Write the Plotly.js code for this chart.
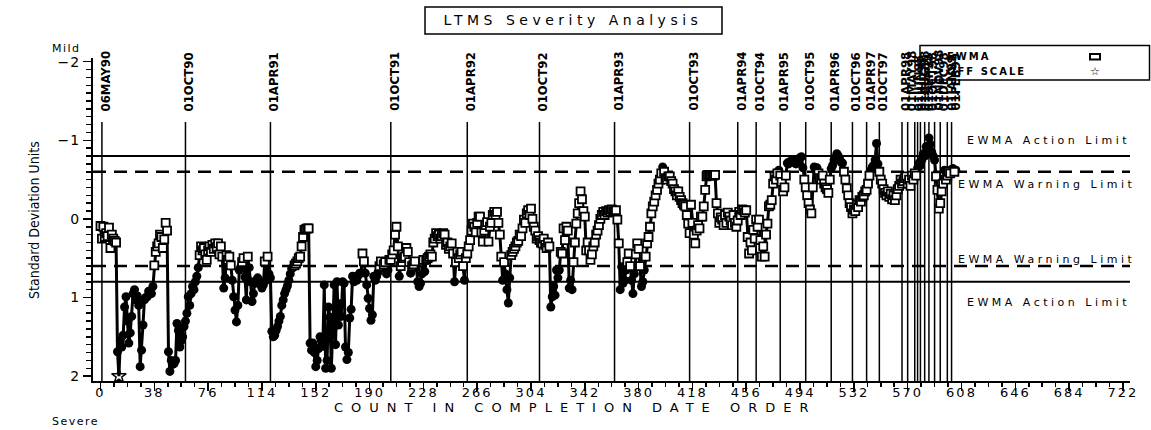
<!DOCTYPE html>
<html><head><meta charset="utf-8">
<script src="https://cdn.plot.ly/plotly-3.0.1.min.js"></script>
<style>
html,body{margin:0;padding:0;background:#fff;}
#chart{width:1151px;height:430px;}
.xtick text{letter-spacing:2px;}
.ytick text{letter-spacing:1px;}
</style></head><body><div id="chart"></div>
<script>
// EWMA severity values in completion order (negative = mild, positive = severe)
const ewma = [
 0.09, 0.25, 0.10, 0.23, 0.18, 0.22, 0.11, 0.37, 0.20, 0.25,
 0.28, 0.30, 1.69, 2.20, 1.55, 1.63, 1.48, 1.12, 0.99, 1.30,
 1.58, 1.45, 1.24, 0.95, 0.90, 1.03, 0.98, 1.10, 1.88, 1.67,
 1.35, 1.03, 1.00, 0.99, 0.92, 0.95, 0.95, 0.86, 0.59, 0.42,
 0.35, 0.31, 0.20, 0.23, 0.37, 0.26, 0.05, 0.15, 1.69, 1.94,
 1.80, 1.85, 1.84, 1.80, 1.33, 1.42, 1.63, 1.55, 1.50, 1.37,
 1.30, 1.20, 0.99, 1.10, 0.95, 0.86, 0.90, 0.80, 0.73, 0.62,
 0.46, 0.35, 0.40, 0.37, 0.45, 0.52, 0.40, 0.35, 0.42, 0.33,
 0.38, 0.31, 0.36, 0.31, 0.45, 0.35, 0.48, 0.88, 0.75, 0.46,
 0.52, 0.48, 0.59, 0.78, 0.99, 1.16, 1.31, 1.10, 0.65, 0.61,
 0.55, 0.50, 0.74, 1.03, 0.48, 0.62, 0.80, 1.05, 0.95, 0.82,
 0.78, 0.75, 0.80, 0.84, 0.88, 0.84, 0.54, 0.78, 0.48, 0.70,
 0.75, 1.43, 1.50, 1.48, 1.42, 1.37, 1.30, 1.24, 1.10, 1.03,
 0.95, 0.90, 0.85, 0.78, 0.70, 0.63, 0.62, 0.59, 0.57, 0.54,
 0.50, 0.48, 0.35, 0.23, 0.14, 0.13, 0.12, 0.12, 1.58, 1.67,
 1.58, 1.70, 1.88, 1.80, 1.65, 1.50, 1.55, 1.62, 0.84, 1.90,
 1.80, 1.12, 1.25, 1.90, 1.41, 0.84, 1.60, 0.80, 1.35, 1.08,
 1.24, 0.80, 0.82, 1.63, 1.79, 1.70, 1.26, 1.15, 0.73, 0.80,
 0.75, 0.78, 0.72, 0.69, 0.69, 0.44, 0.54, 0.69, 0.84, 1.01,
 1.14, 1.29, 1.22, 0.73, 0.78, 0.73, 0.68, 0.60, 0.54, 0.62,
 0.58, 0.55, 0.70, 0.65, 0.52, 0.52, 0.45, 0.40, 0.20, 0.10,
 0.35, 0.73, 0.60, 0.55, 0.50, 0.48, 0.37, 0.42, 0.55, 0.69,
 0.60, 0.58, 0.54, 0.62, 0.80, 0.86, 0.82, 0.70, 0.52, 0.67,
 0.52, 0.50, 0.48, 0.45, 0.48, 0.30, 0.25, 0.18, 0.22, 0.20,
 0.25, 0.22, 0.18, 0.20, 0.33, 0.30, 0.38, 0.35, 0.31, 0.44,
 0.80, 0.55, 0.42, 0.50, 0.45, 0.42, 0.60, 0.78, 0.50, 0.44,
 0.35, 0.27, 0.15, 0.06, 0.10, 0.17, 0.05, -0.03, -0.03, 0.17,
 0.29, 0.15, 0.08, 0.04, 0.29, 0.10, 0.05, -0.05, -0.09, -0.05,
 -0.09, 0.05, 0.20, 0.48, 0.78, 0.55, 0.70, 0.90, 1.07, 0.75,
 0.46, 0.42, 0.38, 0.35, 0.30, 0.28, 0.20, 0.22, 0.12, 0.01,
 0.05, -0.07, -0.11, -0.05, -0.13, 0.00, 0.10, 0.15, 0.25, 0.22,
 0.27, 0.30, 0.31, 0.25, 0.33, 0.37, 0.30, 0.35, 1.12, 0.99,
 0.86, 0.97, 0.65, 0.75, 0.65, 0.42, 0.44, 0.12, 0.27, 0.10,
 0.15, 0.88, 0.78, 0.90, 0.55, 0.30, 0.06, -0.07, -0.20, -0.35,
 -0.25, -0.10, -0.03, 0.40, 0.30, 0.40, 0.52, 0.45, 0.35, 0.30,
 0.20, 0.15, 0.08, 0.00, -0.05, -0.09, -0.05, -0.10, -0.08, -0.11,
 -0.09, -0.12, -0.10, -0.09, -0.11, 0.01, 0.31, 0.90, 0.61, 0.82,
 0.78, 0.65, 0.55, 0.44, 0.60, 0.78, 0.95, 0.70, 0.45, 0.31,
 0.38, 0.60, 0.86, 0.80, 0.65, 0.48, 0.31, 0.23, 0.10, -0.07,
 -0.16, -0.22, -0.30, -0.37, -0.45, -0.50, -0.58, -0.66, -0.60, -0.52,
 -0.50, -0.54, -0.54, -0.48, -0.45, -0.38, -0.35, -0.30, -0.35, -0.28,
 -0.24, -0.20, -0.18, -0.16, -0.05, 0.06, 0.18, -0.18, 0.05, 0.20,
 0.31, 0.15, 0.08, 0.12, -0.03, -0.03, -0.16, -0.37, -0.54, -0.56,
 -0.55, -0.56, -0.56, -0.55, -0.56, -0.20, -0.07, 0.05, -0.02, 0.01,
 0.08, -0.05, 0.05, -0.08, -0.03, 0.02, 0.08, -0.05, 0.05, 0.10,
 0.02, -0.09, -0.05, -0.12, -0.11, -0.08, -0.11, 0.23, 0.44, 0.30,
 0.40, 0.14, 0.25, 0.01, 0.10, 0.01, 0.27, 0.48, 0.35, 0.48,
 0.20, 0.06, -0.16, -0.18, -0.24, -0.45, -0.54, -0.50, -0.58, -0.62,
 -0.55, -0.47, -0.35, -0.40, -0.55, -0.71, -0.70, -0.73, -0.73, -0.72,
 -0.74, -0.70, -0.71, -0.74, -0.78, -0.79, -0.65, -0.50, -0.40, -0.30,
 -0.20, -0.12, -0.07, -0.40, -0.66, -0.62, -0.65, -0.58, -0.52, -0.50,
 -0.55, -0.45, -0.40, -0.38, -0.33, -0.50, -0.64, -0.68, -0.75, -0.78,
 -0.83, -0.80, -0.76, -0.72, -0.71, -0.60, -0.50, -0.39, -0.30, -0.20,
 -0.15, -0.07, -0.12, -0.10, -0.18, -0.15, -0.24, -0.22, -0.28, -0.30,
 -0.35, -0.37, -0.45, -0.55, -0.62, -0.66, -0.68, -0.75, -0.96, -0.70,
 -0.60, -0.50, -0.45, -0.38, -0.33, -0.30, -0.35, -0.28, -0.32, -0.25,
 -0.30, -0.24, -0.30, -0.38, -0.42, -0.50, -0.45, -0.48, -0.52, -0.54,
 -0.45, -0.50, -0.42, -0.55, -0.50, -0.58, -0.55, -0.65, -0.71, -0.68,
 -0.75, -0.83, -0.80, -0.92, -0.88, -1.03, -0.95, -0.85, -0.80, -0.75,
 -0.54, -0.37, -0.13, -0.20, -0.35, -0.45, -0.62, -0.50, -0.55, -0.60,
 -0.58, -0.63, -0.64, -0.60, -0.62
];

// Calendar markers (count at which each date starts)
const dateLabels = ["06MAY90","01OCT90","01APR91","01OCT91","01APR92","01OCT92","01APR93","01OCT93",
  "01APR94","01OCT94","01APR95","01OCT95","01APR96","01OCT96","01APR97","01OCT97",
  "01APR98","01MAY98","01JUN98","01JUL98","01AUG98","01SEP98","01OCT98","01NOV98","01DEC98","01JAN99","01FEB99"];
const dateCounts = [1,60,120,205,259,310,363,416,450,463,480,498,516,531,541,550,
  566,570,575,577,579,582,585,589,593,598,601];

// Limits
const limitValues = [-0.8, -0.6, 0.6, 0.8];
const limitNames  = ["EWMA Action Limit","EWMA Warning Limit","EWMA Warning Limit","EWMA Action Limit"];
const limitDash   = ["solid","dash","dash","solid"];
const scaleMin = -2, scaleMax = 2;
const warnLevel = 0.6;

// Axis tick settings
const xTickStart = 0, xTickStep = 38;
const yTickStep = 1;

// ---------- derived ----------
const count = ewma.map((v, i) => i);
const shown = ewma.map(v => Math.max(scaleMin, Math.min(scaleMax, v)));
const inX = [], inY = [], outX = [], outY = [], offX = [], offY = [];
ewma.forEach((v, i) => {
  if (v > scaleMax || v < scaleMin) { offX.push(i); offY.push(shown[i]); }
  else if (Math.abs(v) > warnLevel) { outX.push(i); outY.push(v); }
  else { inX.push(i); inY.push(v); }
});

// pixel helpers for layout-only decorations
const L = 93, R = 1130, T = 58, B = 381;
const px = p => (p - L) / (R - L);
const py = p => (B - p) / (B - T);

const FONT = 'DejaVu Sans, Verdana, sans-serif';
const NARROW = 'Liberation Sans Narrow, DejaVu Sans Condensed, Arial Narrow, sans-serif';
const sp = (t, s) => '<span style="letter-spacing:' + s + 'px">' + t + '</span>';

const traces = [
  {x: count, y: shown, mode: 'lines', line: {color: '#000', width: 3}, hoverinfo: 'skip', showlegend: false},
  {x: outX, y: outY, mode: 'markers', marker: {symbol: 'circle', size: 9, color: '#000'}, showlegend: false, name: 'EWMA'},
  {x: inX, y: inY, mode: 'markers', marker: {symbol: 'square', size: 8, color: '#fff', line: {color: '#000', width: 1.8}}, showlegend: false, name: 'EWMA'},
  {x: offX, y: offY, mode: 'markers', marker: {symbol: 'star-open', size: 11, color: '#000', line: {color: '#000', width: 1.5}}, showlegend: false, name: 'OFF SCALE', cliponaxis: false}
];

const shapes = [];
limitValues.forEach((v, i) => {
  shapes.push({type: 'line', xref: 'paper', x0: 0, x1: 1, yref: 'y', y0: v, y1: v, layer: 'below',
    line: {color: '#000', width: limitDash[i] === 'solid' ? 2 : 2.5, dash: limitDash[i] === 'solid' ? 'solid' : '13px,8px'}});
});
dateCounts.forEach(c => {
  shapes.push({type: 'line', xref: 'x', x0: c, x1: c, yref: 'paper', y0: 0, y1: py(122), layer: 'below',
    line: {color: '#000', width: 1.5}});
});
// title box
shapes.push({type: 'rect', xref: 'paper', yref: 'paper', x0: px(425), x1: px(722), y0: py(34), y1: py(7), line: {color: '#000', width: 1.5}});
// legend box and square symbol
shapes.push({type: 'rect', xref: 'paper', yref: 'paper', x0: px(920), x1: px(1149.5), y0: py(80), y1: py(45.5), line: {color: '#000', width: 1.5}, fillcolor: '#fff'});
shapes.push({type: 'rect', xref: 'paper', yref: 'paper', x0: px(1090), x1: px(1100), y0: py(59.5), y1: py(54), line: {color: '#000', width: 2}});

const annotations = [];
dateLabels.forEach((lab, i) => {
  annotations.push({x: dateCounts[i], xref: 'x', y: py(112), yref: 'paper', text: '<b>' + lab + '</b>', textangle: -90,
    xanchor: 'center', yanchor: 'bottom', xshift: 3.5, showarrow: false, borderpad: 0,
    font: {family: NARROW, size: 13, color: '#000'}});
});
const limitLabelPos = [[965, 140], [956, 184], [956, 259], [965, 302]];
limitNames.forEach((n, i) => {
  annotations.push({xref: 'paper', yref: 'paper', x: px(limitLabelPos[i][0]), y: py(limitLabelPos[i][1]),
    xanchor: 'left', yanchor: 'middle', text: sp(n, 3.5), showarrow: false,
    font: {family: FONT, size: 11, color: '#000'}});
});
annotations.push({xref: 'paper', yref: 'paper', x: px(945), y: py(57), xanchor: 'left', yanchor: 'middle', showarrow: false,
  text: sp('<b>EWMA</b>', 2), font: {family: FONT, size: 10, color: '#000'}});
annotations.push({xref: 'paper', yref: 'paper', x: px(945), y: py(71.5), xanchor: 'left', yanchor: 'middle', showarrow: false,
  text: sp('<b>OFF SCALE</b>', 2), font: {family: FONT, size: 10, color: '#000'}});
annotations.push({xref: 'paper', yref: 'paper', x: px(1095), y: py(71.5), xanchor: 'center', yanchor: 'middle', showarrow: false,
  text: '☆', font: {family: FONT, size: 11, color: '#000'}});
annotations.push({xref: 'paper', yref: 'paper', x: px(66), y: py(48.5), xanchor: 'center', yanchor: 'middle', showarrow: false,
  text: sp('Mild', 1.5), font: {family: FONT, size: 11, color: '#000'}});
annotations.push({xref: 'paper', yref: 'paper', x: px(75), y: py(422), xanchor: 'center', yanchor: 'middle', showarrow: false,
  text: sp('Severe', 1.5), font: {family: FONT, size: 11, color: '#000'}});
annotations.push({xref: 'paper', yref: 'paper', x: px(34), y: py(220), xanchor: 'center', yanchor: 'middle', showarrow: false,
  text: 'Standard Deviation Units', textangle: -90, font: {family: NARROW, size: 14, color: '#000'}});
annotations.push({xref: 'paper', yref: 'paper', x: px(575), y: py(407), xanchor: 'center', yanchor: 'middle', showarrow: false,
  text: sp('COUNT IN COMPLETION DATE ORDER', 8), font: {family: FONT, size: 13, color: '#000'}});

const layout = {
  width: 1151, height: 430,
  margin: {l: L, r: 1151 - R, t: T, b: 430 - B, pad: 0},
  paper_bgcolor: '#fff', plot_bgcolor: '#fff',
  showlegend: false, hovermode: false,
  title: {text: sp('LTMS Severity Analysis', 4.5), x: 573 / 1151, xanchor: 'center', xref: 'container',
          y: 1 - 20.5 / 430, yanchor: 'middle', yref: 'container', font: {family: FONT, size: 14, color: '#000'}},
  xaxis: {range: [-5.3, 727], tick0: xTickStart, dtick: xTickStep, ticks: 'outside', ticklen: 8, tickwidth: 1.5,
    tickcolor: '#000', showline: true, linewidth: 2, linecolor: '#000', showgrid: false, zeroline: false,
    ticklabelstandoff: -10,
    tickfont: {family: FONT, size: 13, color: '#000'},
    minor: {dtick: xTickStep / 4, ticks: 'outside', ticklen: 4, tickwidth: 1.5, tickcolor: '#000', showgrid: false}},
  yaxis: {range: [2.062, -2.047], tick0: 0, dtick: yTickStep, ticks: 'outside', ticklen: 8, tickwidth: 1.5,
    tickcolor: '#000', showline: true, linewidth: 2, linecolor: '#000', showgrid: false, zeroline: false,
    tickfont: {family: FONT, size: 14, color: '#000'},
    minor: {dtick: 0.1, ticks: 'outside', ticklen: 5, tickwidth: 1.5, tickcolor: '#000', showgrid: false}},
  shapes: shapes,
  annotations: annotations
};

Plotly.newPlot('chart', traces, layout, {staticPlot: true, displayModeBar: false});
</script>
</body></html>
